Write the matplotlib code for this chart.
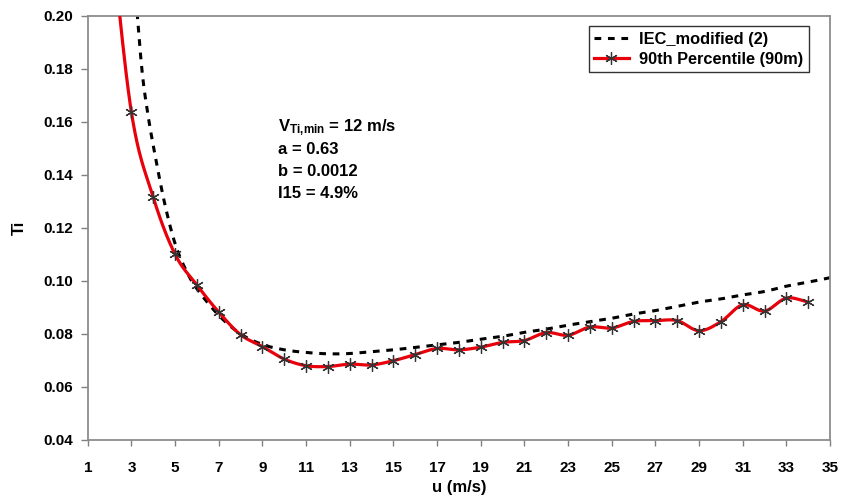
import numpy as np
import matplotlib
matplotlib.use("Agg")
import matplotlib.pyplot as plt

plt.rcParams['font.family'] = ['Liberation Sans', 'DejaVu Sans']
plt.rcParams['mathtext.fontset'] = 'custom'
plt.rcParams['mathtext.rm'] = 'Liberation Sans'
plt.rcParams['mathtext.bf'] = 'Liberation Sans:bold'
plt.rcParams['mathtext.it'] = 'Liberation Sans:italic'

# ---- data ----
u_iec = [3.0, 3.25, 3.5, 3.75, 4.0, 4.5, 5.0, 5.5, 6.0, 7.0, 8.0, 9.0, 10, 11, 12, 13, 14, 15,
         16, 17, 18, 19, 20, 21, 22, 23, 24, 25, 26, 27, 28, 29, 30, 31, 32, 33, 34, 35]
ti_iec = [0.228, 0.202, 0.178, 0.163, 0.151, 0.130, 0.114, 0.104, 0.097, 0.087, 0.080, 0.0760,
          0.0740, 0.0730, 0.0725, 0.0726, 0.0733, 0.0740, 0.0749, 0.0758, 0.0768, 0.0780,
          0.0791, 0.0806, 0.0818, 0.0833, 0.0846, 0.0859, 0.0875, 0.0888, 0.0904, 0.0920,
          0.0932, 0.0947, 0.0960, 0.0980, 0.0995, 0.1012]

u_p90 = [2, 3, 4, 5, 6, 7, 8, 9, 10, 11, 12, 13, 14, 15, 16, 17, 18, 19, 20, 21, 22,
         23, 24, 25, 26, 27, 28, 29, 30, 31, 32, 33, 34]
ti_p90 = [0.236, 0.1635, 0.1315, 0.1100, 0.0984, 0.0882, 0.0797, 0.0752, 0.0705, 0.0680,
          0.0677, 0.0686, 0.0683, 0.0699, 0.0722, 0.0745, 0.0740, 0.0750, 0.0768, 0.0775,
          0.0805, 0.0795, 0.0826, 0.0822, 0.0847, 0.0850, 0.0850, 0.0812, 0.0846, 0.0910,
          0.0886, 0.0935, 0.0920]

x_ticks = list(range(1, 36, 2))
y_ticks = [0.04, 0.06, 0.08, 0.10, 0.12, 0.14, 0.16, 0.18, 0.20]

label_iec = "IEC_modified (2)"
label_p90 = "90th Percentile (90m)"
note_lines = [r"$\mathbf{V}_{\mathbf{Ti,\!min}}$ = 12 m/s", "a = 0.63", "b = 0.0012", "I15 = 4.9%"]


def catmull_rom(x, y, n=20):
    x = np.asarray(x, float)
    y = np.asarray(y, float)
    px = np.concatenate([[2 * x[0] - x[1]], x, [2 * x[-1] - x[-2]]])
    py = np.concatenate([[2 * y[0] - y[1]], y, [2 * y[-1] - y[-2]]])
    xs, ys = [], []
    t = np.linspace(0, 1, n, endpoint=False)
    for i in range(1, len(px) - 2):
        p0, p1, p2, p3 = px[i - 1], px[i], px[i + 1], px[i + 2]
        q0, q1, q2, q3 = py[i - 1], py[i], py[i + 1], py[i + 2]
        t2, t3 = t * t, t * t * t
        xs.append(0.5 * (2 * p1 + (-p0 + p2) * t + (2 * p0 - 5 * p1 + 4 * p2 - p3) * t2 + (-p0 + 3 * p1 - 3 * p2 + p3) * t3))
        ys.append(0.5 * (2 * q1 + (-q0 + q2) * t + (2 * q0 - 5 * q1 + 4 * q2 - q3) * t2 + (-q0 + 3 * q1 - 3 * q2 + q3) * t3))
    xs.append([x[-1]])
    ys.append([y[-1]])
    return np.concatenate(xs), np.concatenate(ys)


fig = plt.figure(figsize=(8.44, 5.01), dpi=100)
ax = fig.add_axes([0.1040, 0.1218, 0.8795, 0.8469])

xi, yi = catmull_rom(u_iec, ti_iec)
ax.plot(xi, yi, color='black', lw=2.2, dashes=(2.2, 2.2), label=label_iec, zorder=2)

xs, ys = catmull_rom(u_p90, ti_p90)
ax.plot(xs, ys, color='#e8000b', lw=2.3, zorder=3)
ax.plot(u_p90, ti_p90, ls='none', marker=(6, 2, 0), ms=9, mec='#333333', mew=0.9, zorder=4)
# legend proxy
ax.plot([], [], color='#e8000b', lw=2.3, marker=(6, 2, 0), ms=9, mec='#333333', mew=0.9,
        label=label_p90)

ax.set_xlim(1, 35)
ax.set_ylim(0.04, 0.20)
ax.set_xticks(x_ticks)
ax.set_yticks(y_ticks)
ax.set_xticklabels([str(v) for v in x_ticks])
ax.set_yticklabels([f"{v:.2f}" for v in y_ticks])
ax.tick_params(axis='x', direction='out', length=4, width=1, pad=11, labelsize=11, color='#808080')
ax.tick_params(axis='y', direction='out', length=5, width=1, pad=5.5, labelsize=11, color='#808080')
for lab in ax.get_xticklabels() + ax.get_yticklabels():
    lab.set_fontweight('bold')

for s in ['left', 'bottom', 'top', 'right']:
    ax.spines[s].set_color('#8c8c8c')
    ax.spines[s].set_linewidth(1.3)

ax.set_xlabel("u (m/s)", fontsize=12, fontweight='bold', labelpad=4)
ax.set_ylabel("Ti", fontsize=12, fontweight='bold', labelpad=12)

leg = ax.legend(loc='upper right', bbox_to_anchor=(0.982, 0.995), fontsize=11.8, frameon=True,
                fancybox=False, edgecolor='black', borderpad=0.35, handlelength=2.1,
                handletextpad=0.6, labelspacing=0.3, borderaxespad=0.5)
leg.get_frame().set_linewidth(1.0)
for t in leg.get_texts():
    t.set_fontweight('bold')

y0 = 0.745
for i, line in enumerate(note_lines):
    fig.text(0.329, y0 - i * 0.044, line, fontsize=12, fontweight='bold', va='center', ha='left')

fig.savefig("out.png", dpi=100)
